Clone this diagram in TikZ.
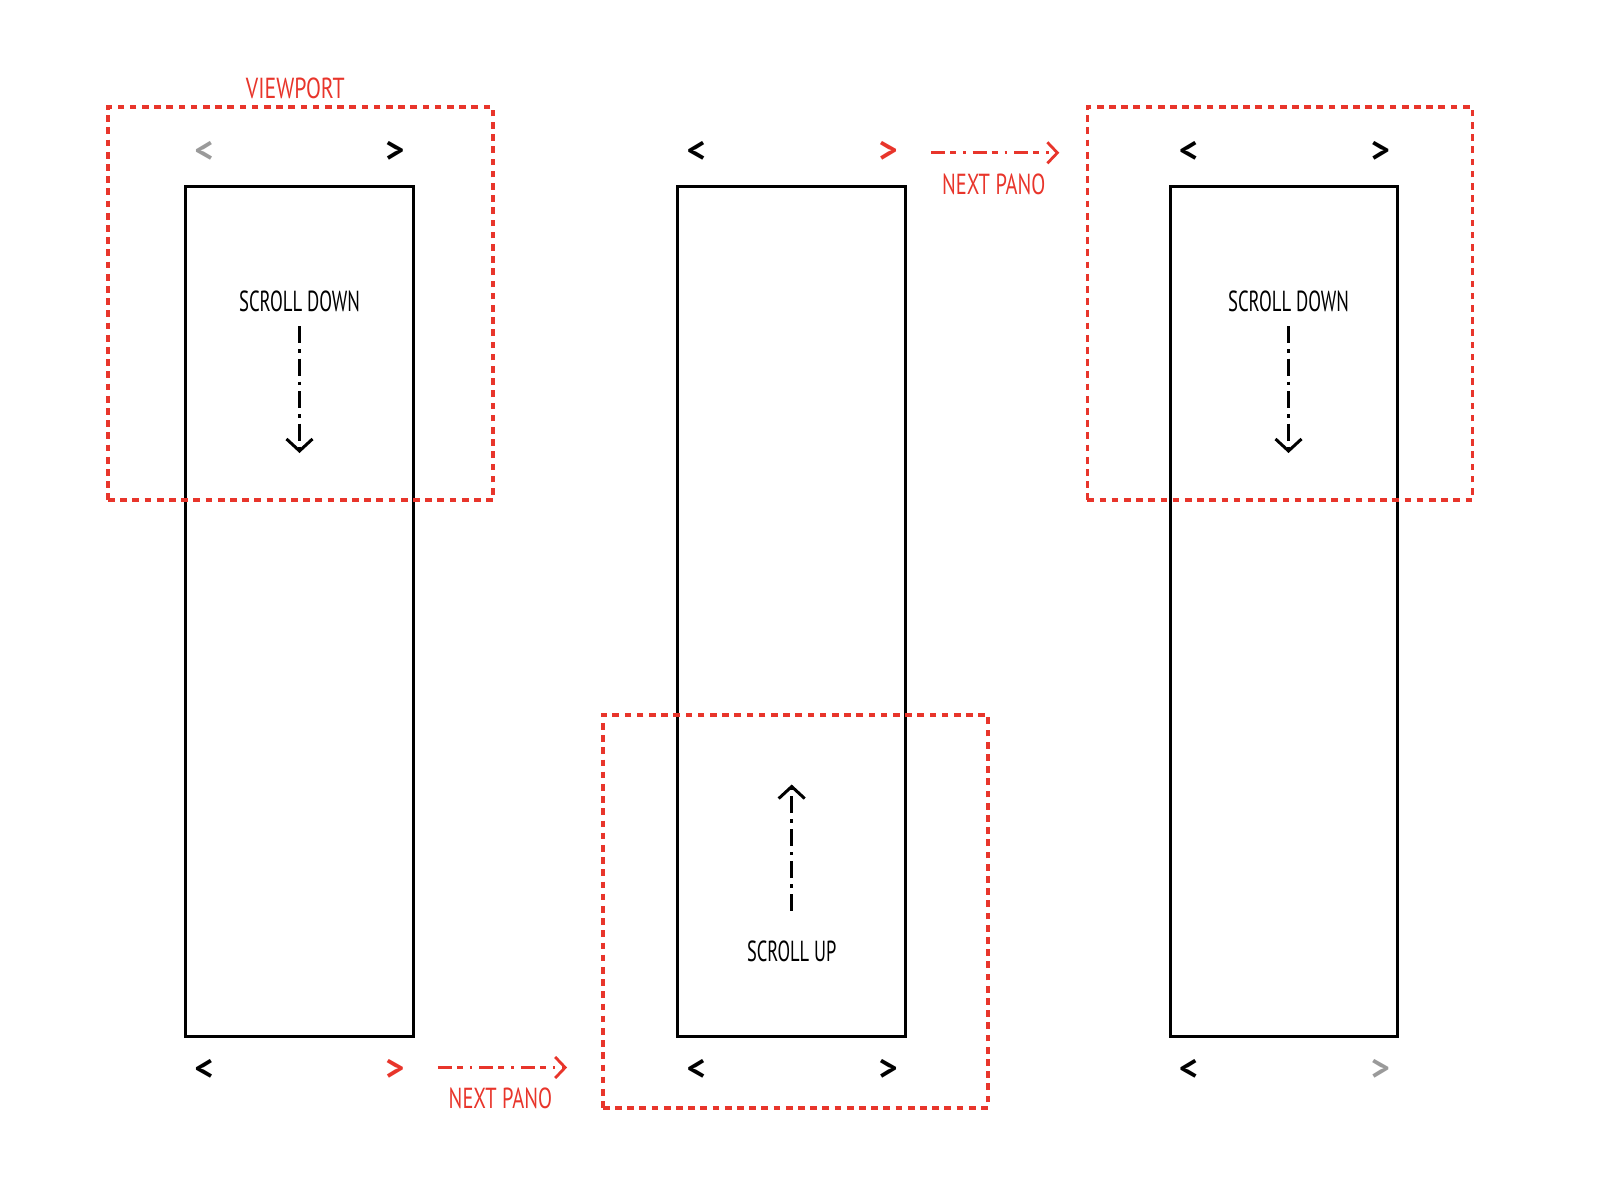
\documentclass[tikz,border=0pt]{standalone}
\usepackage{fontspec}
\setmainfont{PT Sans}
\usetikzlibrary{arrows.meta}
\definecolor{vpred}{HTML}{E8352B}
\definecolor{navgray}{HTML}{9A9A9A}
\newcommand{\cond}[2]{\scalebox{#1}[1]{#2}}
\begin{document}
\begin{tikzpicture}[x=1pt,y=-1pt,
  panel/.style={draw=black, line width=3pt, minimum width=227.7pt, minimum height=850pt, inner sep=0pt, outer sep=0pt},
  viewport/.style={draw=vpred, line width=3.6pt, dash pattern=on 6.7pt off 5.5pt, minimum width=385pt, minimum height=393pt, inner sep=0pt},
  lbl/.style={font=\fontsize{29}{30}\selectfont, inner sep=0pt},
  redlbl/.style={lbl, text=vpred},
  nav/.style={font=\fontsize{36}{36}\selectfont\bfseries, inner sep=0pt},
  scrollarrow/.style={draw=black, line width=3pt, dash pattern=on 17pt off 6pt on 3.5pt off 6pt, -{Straight Barb[length=12pt,width=26pt,line width=3pt]}},
  nextarrow/.style={draw=vpred, line width=2.8pt, dash pattern=on 14pt off 5pt on 6pt off 7pt on 2.5pt off 7pt, -{Straight Barb[length=10pt,width=21pt,line width=2.8pt]}}
]
\useasboundingbox (0,0) rectangle (1608,1184);

% panels
\node[panel] (p1) at (299.5,611.7) {};
\node[panel] (p2) at (791.7,611.7) {};
\node[panel] (p3) at (1284,611.7) {};

% viewports
\node[viewport] (v1) at (300.5,303.5) {};
\node[viewport] (v2) at (795.3,911.2) {};
\node[viewport] (v3) at (1279.8,303.5) {};

\node[redlbl] (vplabel) at (295.3,88.2) {\cond{0.75}{VIEWPORT}};

% chevrons top
\node[nav, text=navgray] (t1l) at (204,151.8) {<};
\node[nav] (t1r) at (394.8,151.8) {>};
\node[nav] (t2l) at (696.3,151.8) {<};
\node[nav, text=vpred] (t2r) at (888.1,151.8) {>};
\node[nav] (t3l) at (1188.6,151.8) {<};
\node[nav] (t3r) at (1380.3,151.8) {>};
% chevrons bottom
\node[nav] (b1l) at (204,1069.6) {<};
\node[nav, text=vpred] (b1r) at (394.8,1069.6) {>};
\node[nav] (b2l) at (696.3,1069.6) {<};
\node[nav] (b2r) at (888.1,1069.6) {>};
\node[nav] (b3l) at (1188.6,1069.6) {<};
\node[nav, text=navgray] (b3r) at (1380.3,1069.6) {>};

% scroll labels and arrows
\node[lbl] (sd1) at (299.5,301.5) {\cond{0.645}{SCROLL DOWN}};
\coordinate (sd1a) at (299.5,326);
\coordinate (sd1b) at (299.5,453);
\draw[scrollarrow] (sd1a) -- (sd1b);

\node[lbl] (sd3) at (1288.5,301.5) {\cond{0.645}{SCROLL DOWN}};
\coordinate (sd3a) at (1288.5,326);
\coordinate (sd3b) at (1288.5,453);
\draw[scrollarrow] (sd3a) -- (sd3b);

\node[lbl] (su2) at (791.7,951.7) {\cond{0.635}{SCROLL UP}};
\coordinate (su2a) at (791.7,910.6);
\coordinate (su2b) at (791.7,784.5);
\draw[scrollarrow] (su2a) -- (su2b);

% next pano arrows
\coordinate (n1a) at (437.9,1067.5);
\coordinate (n1b) at (567.1,1067.5);
\draw[nextarrow] (n1a) -- (n1b);
\node[redlbl] (n1l) at (500.4,1098.3) {\cond{0.705}{NEXT PANO}};

\coordinate (n2a) at (931.1,152.8);
\coordinate (n2b) at (1059.3,152.8);
\draw[nextarrow] (n2a) -- (n2b);
\node[redlbl] (n2l) at (993.7,184.6) {\cond{0.705}{NEXT PANO}};
\end{tikzpicture}
\end{document}
